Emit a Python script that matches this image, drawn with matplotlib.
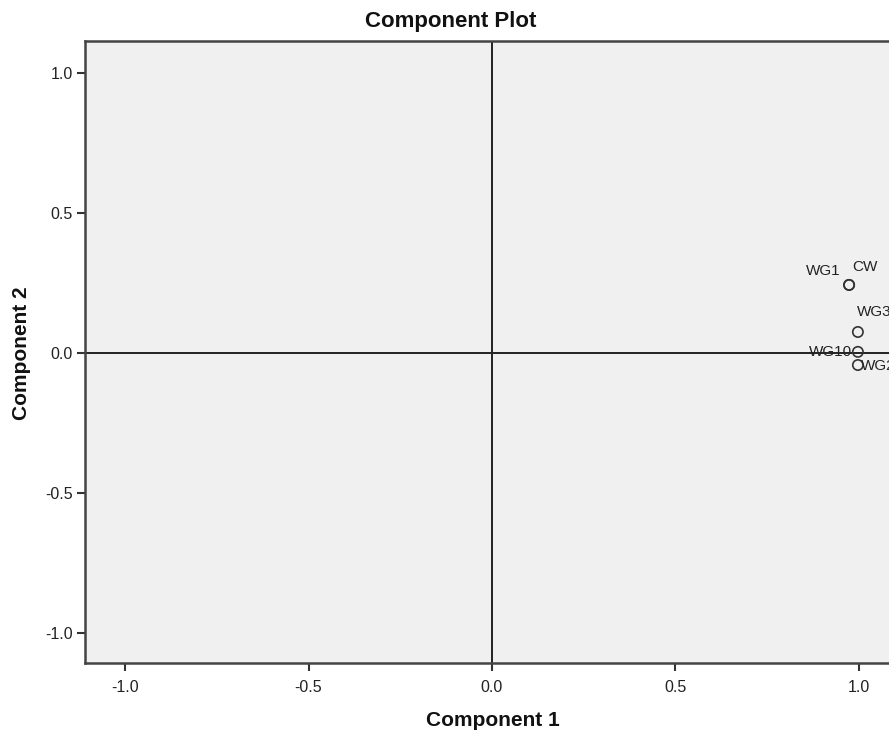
import matplotlib
matplotlib.use("Agg")
import matplotlib.pyplot as plt

plt.rcParams['font.family'] = ['Liberation Sans', 'DejaVu Sans']

labels = ["WG1", "CW", "WG3", "WG10", "WG2"]
comp1 = [0.973, 0.973, 0.997, 0.997, 0.997]
comp2 = [0.243, 0.243, 0.075, 0.004, -0.043]
ticks = [-1.0, -0.5, 0.0, 0.5, 1.0]
tick_labels = ["-1.0", "-0.5", "0.0", "0.5", "1.0"]

W, H = 889, 736
fig = plt.figure(figsize=(W/100, H/100), dpi=100)
left, right, top, bottom = 85, 899, 41, 663
ax = fig.add_axes([left/W, 1-bottom/H, (right-left)/W, (bottom-top)/H])
ax.set_facecolor('#F0F0F0')
ax.set_xlim(-1.109, 1.109)
ax.set_ylim(-1.107, 1.114)
ax.axhline(0, color='#222222', lw=1.4, zorder=1)
ax.axvline(0, color='#222222', lw=1.4, zorder=1)
ax.scatter(comp1, comp2, s=55, facecolors='none', edgecolors='#333333', linewidths=1.2, zorder=3)

offsets = {
    "WG1": (-6, 5, 'right', 'bottom'),
    "CW": (2, 8, 'left', 'bottom'),
    "WG3": (-1, 9, 'left', 'bottom'),
    "WG10": (-4, 0, 'right', 'center'),
    "WG2": (2, -1, 'left', 'center'),
}
for lab, x, y in zip(labels, comp1, comp2):
    dx, dy, ha, va = offsets[lab]
    ax.annotate(lab, (x, y), xytext=(dx, dy), textcoords='offset points',
                ha=ha, va=va, fontsize=11, color='#222222', annotation_clip=False)

ax.set_xticks(ticks)
ax.set_xticklabels(tick_labels)
ax.set_yticks(ticks)
ax.set_yticklabels(tick_labels)
ax.tick_params(axis='both', labelsize=11.5, colors='#333333', length=6, width=1.5, labelcolor='#222222', pad=3)
ax.tick_params(axis='x', pad=6)
for s in ['left', 'bottom', 'top', 'right']:
    ax.spines[s].set_color('#444444')
    ax.spines[s].set_linewidth(1.8)

fig.text(451/W, 1-22/H, "Component Plot", ha='center', va='center', fontsize=16, fontweight='bold', color='#111111')
fig.text(493/W, 1-720/H, "Component 1", ha='center', va='center', fontsize=15, fontweight='bold', color='#111111')
fig.text(22/W, 1-353/H, "Component 2", ha='center', va='center', rotation=90, fontsize=15, fontweight='bold', color='#111111')

fig.savefig("out.png", dpi=100)
